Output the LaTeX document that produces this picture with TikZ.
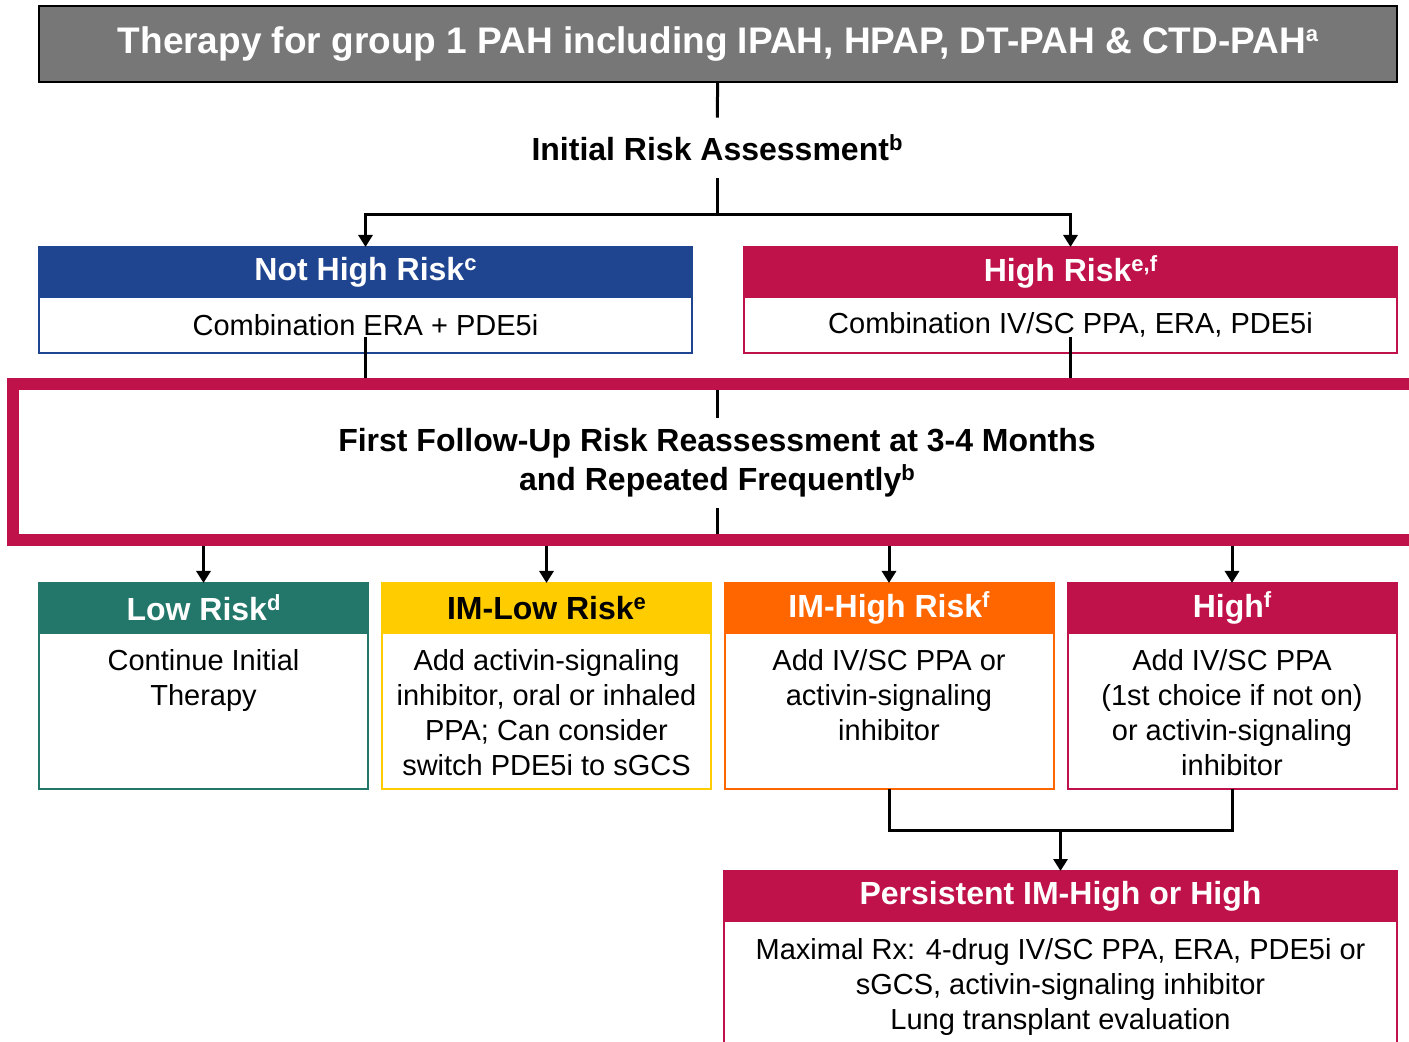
\documentclass[tikz,border=0pt]{standalone}
\usepackage{fontspec}
\setmainfont{Liberation Sans}
\usetikzlibrary{positioning,arrows.meta}

\definecolor{pahgray}{HTML}{777777}
\definecolor{pahblue}{HTML}{1F4591}
\definecolor{pahred}{HTML}{C0124A}
\definecolor{pahteal}{HTML}{23776A}
\definecolor{pahyellow}{HTML}{FFCC00}
\definecolor{pahorange}{HTML}{FF6600}

% text of a box body, set from the top
\newcommand{\bodytext}[3]{\parbox[c][#1][t]{#2}{\centering\fontsize{14.5}{17.5}\selectfont\rule{0pt}{19pt}#3}}
\newcommand{\fnote}[1]{\raisebox{0.6ex}{\fontsize{11}{11}\selectfont #1}}

\begin{document}
\begin{tikzpicture}[
    x=0.5pt, y=-0.5pt,
    line/.style={line width=1.5pt},
    arrow/.style={line width=1.5pt, -{Triangle[width=7pt,length=6pt]}},
    head/.style={draw=#1, fill=#1, line width=1pt, outer sep=0pt, inner sep=0pt,
      text=white, font=\fontsize{16}{19}\selectfont\bfseries, minimum height=25pt},
    body/.style={draw=#1, fill=white, line width=1pt, outer sep=0pt, inner sep=0pt,
      font=\fontsize{14.5}{17.5}\selectfont},
    heading/.style={font=\fontsize{16}{19.5}\selectfont\bfseries, align=center},
    wide/.style={minimum width=326.5pt},
    risk/.style={minimum width=164.5pt}
  ]
  \useasboundingbox (0,0) rectangle (1409,1042);

  \node[draw=black, fill=pahgray, line width=1pt, minimum width=679pt, minimum height=38pt,
    text=white, font=\fontsize{18.5}{21}\selectfont\bfseries] (title) at (718,44)
    {Therapy for group 1 PAH including IPAH, HPAP, DT-PAH \& CTD-PAH\fnote{a}};
  \node[heading, minimum height=30pt] (initial) at (717,148) {Initial Risk Assessment\fnote{b}};

  \node[head=pahblue, wide] (nhhead) at (365.5,272) {Not High Risk\fnote{c}};
  \node[body=pahblue, wide, minimum height=28pt, below=0pt of nhhead] (nhbody) {Combination ERA + PDE5i};
  \node[head=pahred, wide] (hrhead) at (1070.5,272) {High Risk\fnote{e,f}};
  \node[body=pahred, wide, minimum height=28pt, below=0pt of hrhead] (hrbody) {Combination IV/SC PPA, ERA, PDE5i};

  \node[draw=pahred, line width=6pt, minimum width=706pt, minimum height=78pt] (frame) at (719,462) {};
  \node[heading, inner ysep=5pt] (followup) at (717,463)
    {First Follow-Up Risk Reassessment at 3-4 Months\\and Repeated Frequently\fnote{b}};

  \node[head=pahteal, risk] (lowhead) at (203.5,608) {Low Risk\fnote{d}};
  \node[body=pahteal, risk, below=0pt of lowhead] (lowbody) {\bodytext{78pt}{162pt}{Continue Initial\\Therapy}};
  \node[head=pahyellow, risk, text=black] (imlowhead) at (546.5,608) {IM-Low Risk\fnote{e}};
  \node[body=pahyellow, risk, below=0pt of imlowhead] (imlowbody)
    {\bodytext{78pt}{162pt}{Add activin-signaling\\inhibitor, oral or inhaled\\PPA; Can consider\\switch PDE5i to sGCS}};
  \node[head=pahorange, risk] (imhighhead) at (889,608) {IM-High Risk\fnote{f}};
  \node[body=pahorange, risk, below=0pt of imhighhead] (imhighbody)
    {\bodytext{78pt}{162pt}{Add IV/SC PPA or\\activin-signaling\\inhibitor}};
  \node[head=pahred, risk] (highhead) at (1232,608) {High\fnote{f}};
  \node[body=pahred, risk, below=0pt of highhead] (highbody)
    {\bodytext{78pt}{162pt}{Add IV/SC PPA\\(1st choice if not on)\\or activin-signaling\\inhibitor}};

  \node[head=pahred, minimum width=336.5pt] (pershead) at (1060.5,896) {Persistent IM-High or High};
  \node[body=pahred, minimum width=336.5pt, below=0pt of pershead] (persbody)
    {\bodytext{65pt}{334pt}{Maximal Rx: 4-drug IV/SC PPA, ERA, PDE5i or\\sGCS, activin-signaling inhibitor\\Lung transplant evaluation}};

  % connectors
  \coordinate (split) at (717,215);
  \coordinate (merge) at (1060.5,830);
  \draw[line] (title) -- (initial);
  \draw[line] (initial) -- (split);
  \draw[arrow] (split) -| (nhhead.north);
  \draw[arrow] (split) -| (hrhead.north);
  \draw[line] ([yshift=8pt]nhbody.south) -- (frame.north -| nhbody.south);
  \draw[line] ([yshift=8pt]hrbody.south) -- (frame.north -| hrbody.south);
  \draw[line] (followup.north) -- ([yshift=-6pt]followup.north |- frame.north);
  \draw[line] (followup.south) -- ([yshift=6pt]followup.south |- frame.south);
  \foreach \n in {low,imlow,imhigh,high}
    \draw[arrow] (frame.south -| \n head.north) -- (\n head.north);
  \draw[line] (imhighbody.south) |- (merge) -| (highbody.south);
  \draw[arrow] (merge) -- (pershead.north);
\end{tikzpicture}
\end{document}
